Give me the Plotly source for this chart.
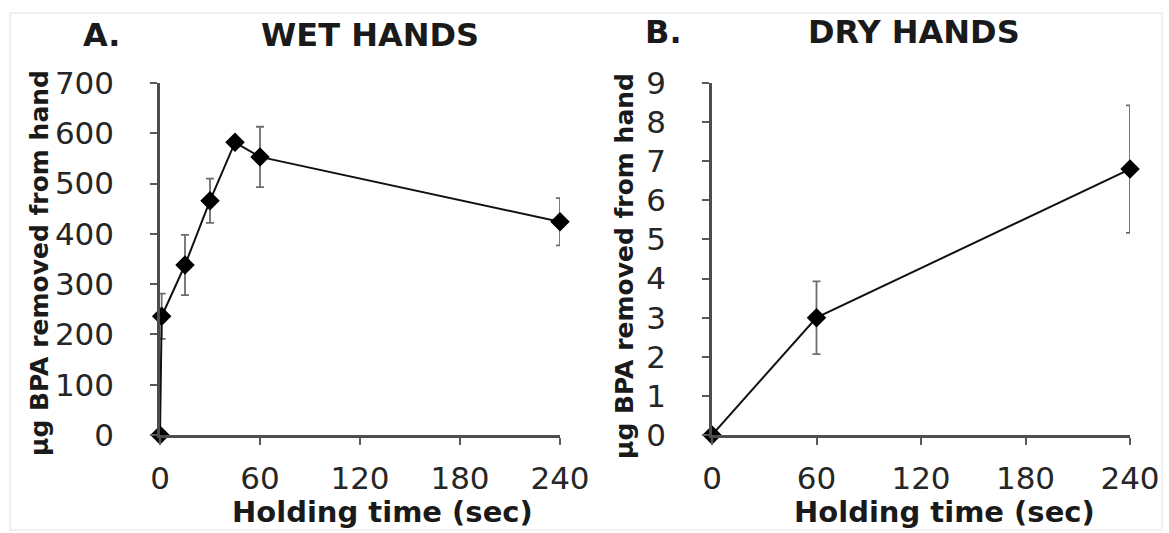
import plotly.graph_objects as go

# Panel A: wet hands
wet_time = [0, 1, 15, 30, 45, 60, 240]
wet_bpa = [0, 236, 338, 466, 582, 553, 424]
wet_err = [0, 45, 60, 44, 8, 60, 47]

# Panel B: dry hands
dry_time = [0, 60, 240]
dry_bpa = [0, 3.0, 6.8]
dry_err = [0, 0.93, 1.63]

x_ticks = [0, 60, 120, 180, 240]
y_ticks_a = [0, 100, 200, 300, 400, 500, 600, 700]
y_ticks_b = list(range(0, 10))

W, H = 1169, 533
def px(x):
    return x / W
def py(y):
    return 1 - y / H

fig = go.Figure()

err_style = dict(type="data", visible=True, color="#6e6e6e", thickness=1.8, width=4)
mk = dict(symbol="diamond", size=15, color="black")
ln = dict(color="#111111", width=2)

fig.add_trace(go.Scatter(x=wet_time, y=wet_bpa, mode="lines+markers",
                         error_y=dict(array=wet_err, **err_style),
                         marker=mk, line=ln, cliponaxis=False,
                         xaxis="x", yaxis="y", showlegend=False))
fig.add_trace(go.Scatter(x=dry_time, y=dry_bpa, mode="lines+markers",
                         error_y=dict(array=dry_err, **err_style),
                         marker=mk, line=ln, cliponaxis=False,
                         xaxis="x2", yaxis="y2", showlegend=False))

tickfont = dict(family="DejaVu Sans", size=31, color="#262626")
ax_common = dict(showline=True, linecolor="#4d4d4d", linewidth=2.5, ticks="outside",
                 ticklen=7, tickwidth=2, tickcolor="#5a5a5a", showgrid=False,
                 zeroline=False, tickfont=tickfont, fixedrange=True, automargin=False)

ydom = [py(435), py(83)]
fig.update_layout(
    template="none",
    width=W, height=H,
    margin=dict(l=0, r=0, t=0, b=0, pad=0, autoexpand=False),
    paper_bgcolor="white", plot_bgcolor="white",
    xaxis=dict(domain=[px(160), px(560)], range=[0, 240], tickvals=x_ticks,
               anchor="y", ticklabelstandoff=7, **ax_common),
    yaxis=dict(domain=ydom, range=[0, 700], tickvals=y_ticks_a,
               anchor="x", ticklabelstandoff=30, **ax_common),
    xaxis2=dict(domain=[px(712), px(1130)], range=[0, 240], tickvals=x_ticks,
                anchor="y2", ticklabelstandoff=7, **ax_common),
    yaxis2=dict(domain=ydom, range=[0, 9], tickvals=y_ticks_b,
                anchor="x2", ticklabelstandoff=30, **ax_common),
)

bold = dict(family="DejaVu Sans", size=32, color="#1a1a1a", weight="bold")
def ann(text, x, y, font, angle=0):
    fig.add_annotation(text=text, x=px(x), y=py(y), xref="paper", yref="paper",
                       showarrow=False, xanchor="center", yanchor="middle",
                       font=font, textangle=angle)

ann("<b>A.</b>", 102, 35, bold)
ann("<b>WET HANDS</b>", 370, 35, bold)
ann("<b>B.</b>", 663, 32, bold)
ann("<b>DRY HANDS</b>", 914, 32, bold)

xt_font = dict(family="DejaVu Sans", size=29, color="#1a1a1a")
ann("<b>Holding time (sec)</b>", 382, 512, xt_font)
ann("<b>Holding time (sec)</b>", 944, 512, xt_font)

yt_font = dict(family="DejaVu Sans", size=25, color="#1a1a1a")
ann("<b>μg BPA removed from hand</b>", 40, 263, yt_font, angle=-90)
ann("<b>μg BPA removed from hand</b>", 624, 266, yt_font, angle=-90)

# faint outer frame of the scanned figure
fig.add_shape(type="rect", xref="paper", yref="paper",
              x0=px(10), x1=px(1162), y0=py(530), y1=py(13),
              line=dict(color="#ececec", width=1.5), layer="below")

fig.write_html("out.html")
